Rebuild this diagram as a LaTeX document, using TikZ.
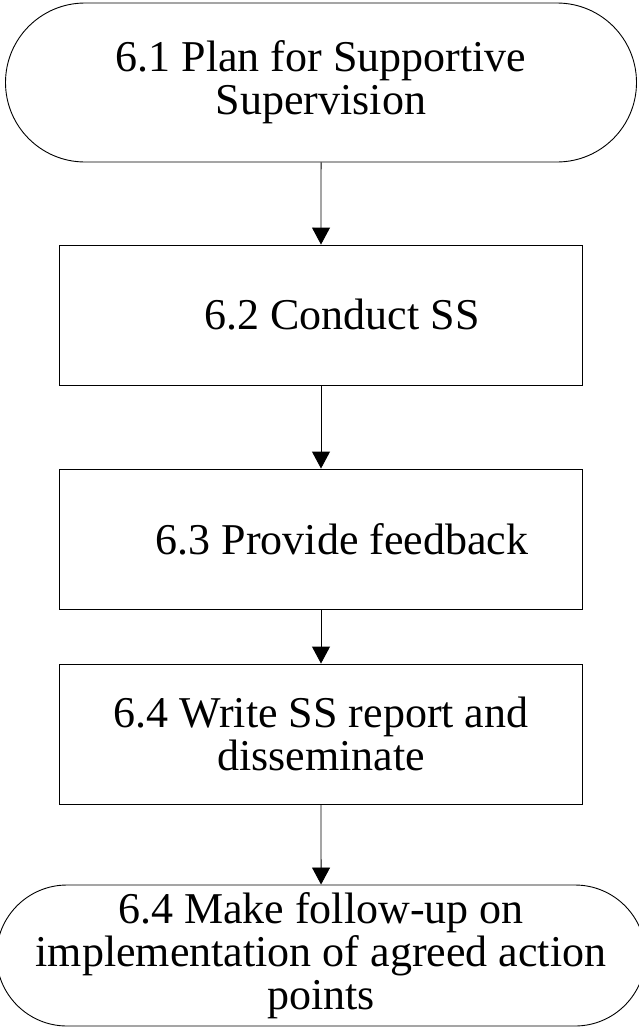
\documentclass[tikz,border=0pt]{standalone}
\usepackage{fontspec}
\setmainfont{Liberation Serif}
\usetikzlibrary{shapes.misc,arrows.meta}

\begin{document}
\begin{tikzpicture}[x=1pt,y=-1pt,
  every node/.style={font=\fontsize{44}{43}\selectfont, align=center, inner sep=0pt},
  terminal/.style={draw, rounded rectangle, line width=0.9pt, minimum width=631pt},
  stepbox/.style={draw, rectangle, line width=0.9pt, minimum width=523pt, minimum height=140pt},
  flow/.style={-{Triangle[width=18pt,length=17pt]}, line width=0.9pt}]
\useasboundingbox (0,0) rectangle (638,1028);

% start and end terminators
\node[terminal, minimum height=159pt] (t1) at (321,82.5) {6.1 Plan for Supportive\\Supervision};
\node[terminal, minimum height=141pt] (t2) at (321,955.5) {6.4 Make follow-up on\\implementation of agreed action\\points};

% process steps
\node[stepbox] (b2) at (321,315) {\hspace*{42pt}6.2 Conduct SS};
\node[stepbox] (b3) at (321,539) {\hspace*{42pt}6.3 Provide feedback};
\node[stepbox] (b4) at (321,734) {6.4 Write SS report and\\disseminate};

% connectors
\draw[flow] (t1) -- (b2);
\draw[flow] (b2) -- (b3);
\draw[flow] (b3) -- (b4);
\draw[flow] (b4) -- (t2);
\end{tikzpicture}
\end{document}
